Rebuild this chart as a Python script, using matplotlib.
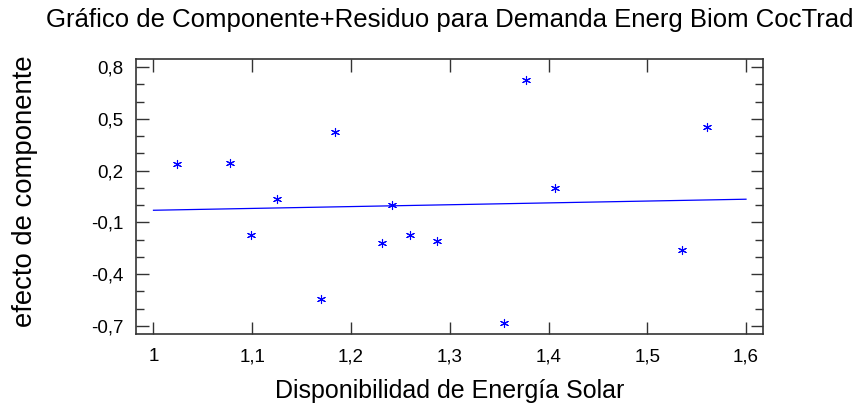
import numpy as np
import matplotlib
matplotlib.use("Agg")
import matplotlib.pyplot as plt
from matplotlib.ticker import FixedLocator, MultipleLocator, FuncFormatter

plt.rcParams['font.family'] = ['Liberation Sans', 'DejaVu Sans']

# Datos
disponibilidad_solar = [1.024, 1.077, 1.099, 1.125, 1.170, 1.184, 1.231, 1.242,
                        1.260, 1.287, 1.355, 1.377, 1.407, 1.535, 1.560]
efecto_componente = [0.241, 0.246, -0.171, 0.038, -0.543, 0.425, -0.220, 0.003,
                     -0.171, -0.208, -0.686, 0.726, 0.101, -0.262, 0.450]
linea_x = [1.0, 1.6]
linea_y = [-0.030, 0.034]

x_ticks = [1.0, 1.1, 1.2, 1.3, 1.4, 1.5, 1.6]
y_ticks = [-0.7, -0.4, -0.1, 0.2, 0.5, 0.8]

AZUL = '#0000ff'


def coma(v, pos=None):
    s = f"{v:.1f}".replace('.', ',')
    if s.endswith(',0'):
        s = s[:-2]
    if s == '-0':
        s = '0'
    return s


fig = plt.figure(figsize=(8.59, 4.05), dpi=100)
ax = fig.add_axes([0.158, 0.175, 0.730, 0.679])

ax.plot(linea_x, linea_y, color=AZUL, linewidth=0.9, zorder=2)
ax.scatter(disponibilidad_solar, efecto_componente, marker=(6, 2, 0), s=34,
           color=AZUL, linewidths=0.8, zorder=3)

ax.set_xlim(0.982, 1.617)
ax.set_ylim(-0.748, 0.846)

ax.xaxis.set_major_locator(FixedLocator(x_ticks))
ax.yaxis.set_major_locator(FixedLocator(y_ticks))
ax.yaxis.set_minor_locator(MultipleLocator(0.1))
ax.xaxis.set_major_formatter(FuncFormatter(coma))
ax.yaxis.set_major_formatter(FuncFormatter(coma))

ax.tick_params(axis='both', which='both', direction='in', top=True, right=True,
               labelsize=13.5, color='#333333', width=1.0)
ax.tick_params(axis='both', which='major', length=9)
ax.tick_params(axis='y', which='major', pad=9)
ax.tick_params(axis='x', which='major', pad=10)
ax.tick_params(axis='y', which='minor', length=6)

for spine in ax.spines.values():
    spine.set_edgecolor('#333333')
    spine.set_linewidth(1.2)

# Etiquetas de ejes y título
fig.text(0.523, 0.0173, 'Disponibilidad de Energía Solar', ha='center',
         va='baseline', fontsize=18)
fig.text(0.029, 0.527, 'efecto de componente', ha='center', va='center',
         rotation=90, fontsize=19.8)
fig.text(0.524, 0.933, 'Gráfico de Componente+Residuo para Demanda Energ Biom CocTrad',
         ha='center', va='baseline', fontsize=18.5)

fig.savefig('out.png', dpi=100, facecolor='white')
